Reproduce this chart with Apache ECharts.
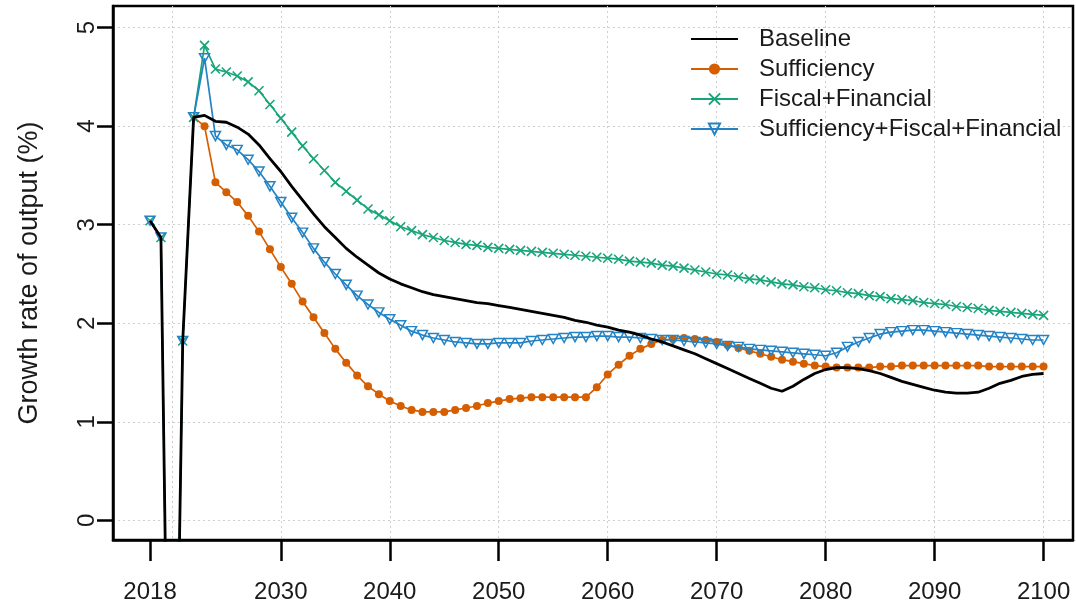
<!DOCTYPE html>
<html><head><meta charset="utf-8">
<script src="https://cdn.jsdelivr.net/npm/echarts@6/dist/echarts.min.js"></script>
<style>html,body{margin:0;padding:0;background:#fff}#c{width:1076px;height:606px}</style>
</head><body><div id="c"></div>
<script>
// ---- data (growth rate of output, %, annual 2018..2100) ----
const startYear = 2018;
const seriesNames = ['Baseline', 'Sufficiency', 'Fiscal+Financial', 'Sufficiency+Fiscal+Financial'];
const baseline = [3.04, 2.87, -5.0, 1.82, 4.09, 4.11, 4.05, 4.04, 3.99, 3.92, 3.81, 3.67, 3.54, 3.39, 3.25, 3.11, 2.98,
  2.87, 2.76, 2.67, 2.59, 2.51, 2.45, 2.40, 2.36, 2.32, 2.29, 2.27, 2.25, 2.23, 2.21, 2.20, 2.18,
  2.16, 2.14, 2.12, 2.10, 2.08, 2.06, 2.03, 2.01, 1.98, 1.96, 1.93, 1.91, 1.88, 1.84, 1.81, 1.77, 1.73,
  1.69, 1.64, 1.59, 1.54, 1.49, 1.44, 1.39, 1.34, 1.31, 1.36, 1.43, 1.49, 1.53, 1.55, 1.55, 1.54, 1.52,
  1.49, 1.45, 1.41, 1.38, 1.35, 1.32, 1.30, 1.29, 1.29, 1.30, 1.34, 1.39, 1.42, 1.46, 1.48, 1.49];
const sufficiency = [null, null, null, null, 4.09, 4.00, 3.43, 3.33, 3.23, 3.09, 2.93, 2.75, 2.57, 2.40, 2.22, 2.06, 1.90,
  1.74, 1.60, 1.47, 1.36, 1.28, 1.21, 1.16, 1.12, 1.10, 1.10, 1.10, 1.12, 1.14, 1.16, 1.19, 1.21,
  1.23, 1.24, 1.25, 1.25, 1.25, 1.25, 1.25, 1.25, 1.35, 1.48, 1.58, 1.67, 1.74, 1.79, 1.83, 1.84, 1.85,
  1.84, 1.83, 1.81, 1.78, 1.75, 1.72, 1.69, 1.66, 1.63, 1.61, 1.59, 1.57, 1.56, 1.55, 1.55, 1.55, 1.55,
  1.56, 1.56, 1.57, 1.57, 1.57, 1.57, 1.57, 1.57, 1.57, 1.57, 1.56, 1.56, 1.56, 1.56, 1.56, 1.56];
const fiscalFinancial = [3.04, 2.87, -5.0, 1.82, 4.09, 4.82, 4.58, 4.55, 4.51, 4.45, 4.36, 4.22, 4.08, 3.94, 3.80, 3.67, 3.55,
  3.43, 3.34, 3.25, 3.16, 3.10, 3.04, 2.98, 2.94, 2.90, 2.87, 2.84, 2.82, 2.80, 2.79, 2.77, 2.76,
  2.75, 2.74, 2.73, 2.72, 2.71, 2.70, 2.69, 2.68, 2.67, 2.66, 2.65, 2.63, 2.62, 2.61, 2.59, 2.58, 2.56,
  2.54, 2.52, 2.50, 2.49, 2.47, 2.45, 2.44, 2.42, 2.40, 2.39, 2.37, 2.36, 2.34, 2.33, 2.31, 2.30, 2.28,
  2.27, 2.25, 2.24, 2.23, 2.21, 2.20, 2.19, 2.17, 2.16, 2.15, 2.13, 2.12, 2.11, 2.10, 2.09, 2.08];
const suffFiscalFinancial = [3.04, 2.87, -5.0, 1.82, 4.09, 4.69, 3.90, 3.81, 3.76, 3.66, 3.54, 3.39, 3.23, 3.07, 2.92, 2.76, 2.62,
  2.50, 2.39, 2.28, 2.19, 2.11, 2.04, 1.98, 1.92, 1.88, 1.85, 1.83, 1.81, 1.80, 1.79, 1.79, 1.80,
  1.80, 1.80, 1.82, 1.83, 1.84, 1.85, 1.86, 1.86, 1.87, 1.87, 1.86, 1.86, 1.85, 1.84, 1.83, 1.83, 1.82,
  1.81, 1.80, 1.79, 1.77, 1.76, 1.74, 1.73, 1.72, 1.71, 1.70, 1.69, 1.68, 1.67, 1.70, 1.76, 1.81, 1.85,
  1.89, 1.91, 1.92, 1.93, 1.93, 1.92, 1.91, 1.90, 1.89, 1.88, 1.87, 1.86, 1.85, 1.84, 1.83, 1.83];
const xTickLabels = [2018, 2030, 2040, 2050, 2060, 2070, 2080, 2090, 2100];
const xGridValues = [2020, 2030, 2040, 2050, 2060, 2070, 2080, 2090, 2100];
const yTicks = [0, 1, 2, 3, 4, 5];

// ---- build ----
const years = baseline.map((_, i) => startYear + i);
const toPairs = arr => arr.map((v, i) => [years[i], v]);
const FONT = "'Liberation Sans', Arial, sans-serif";
const TXT = '#1a1a1a';
const C_BASE = '#000000', C_SUFF = '#D55E00', C_FF = '#18A579', C_SFF = '#2383C4';

const suffData = toPairs(sufficiency).map((p, i) => (i === 4 ? { value: p, symbol: 'none' } : p));

const chart = echarts.init(document.getElementById('c'), null, { renderer: 'canvas' });
chart.setOption({
  animation: false,
  backgroundColor: '#fff',
  textStyle: { fontFamily: FONT },
  grid: { left: 113, right: 3, top: 6, bottom: 66, containLabel: false, outerBoundsMode: 'none',
    show: true, borderColor: '#000', borderWidth: 2.5, backgroundColor: 'transparent' },
  legend: {
    orient: 'vertical', left: 685, top: 22,
    itemWidth: 47, itemHeight: 14, itemGap: 6,
    textStyle: { fontSize: 24, color: TXT, fontFamily: FONT, padding: [0, 0, 0, 16] },
    data: seriesNames
  },
  xAxis: [{
    type: 'value', min: 2014.6, max: 2102.7,
    axisLine: { show: true, onZero: false, lineStyle: { color: '#000', width: 2.5 } },
    axisTick: { show: true, length: 21, customValues: xTickLabels, lineStyle: { color: '#000', width: 2.5 } },
    axisLabel: { customValues: xTickLabels, margin: 40, fontSize: 24, color: TXT, fontFamily: FONT, formatter: v => String(v) },
    splitLine: { show: false }
  }, {
    type: 'value', min: 2014.6, max: 2102.7, position: 'bottom',
    axisLine: { show: false },
    axisTick: { show: false, customValues: xGridValues },
    axisLabel: { show: false, customValues: xGridValues },
    splitLine: { show: true, lineStyle: { type: [2, 3], color: '#cfcfcf', width: 1 } }
  }],
  yAxis: {
    type: 'value', min: -0.2, max: 5.22,
    name: 'Growth rate of output (%)', nameLocation: 'middle', nameGap: 70, nameRotate: 90,
    nameTextStyle: { fontSize: 27, color: TXT, fontFamily: FONT },
    axisLine: { show: true, onZero: false, lineStyle: { color: '#000', width: 2.5 } },
    axisTick: { show: true, length: 16, customValues: yTicks, lineStyle: { color: '#000', width: 2.5 } },
    axisLabel: { customValues: yTicks, rotate: 90, margin: 14, fontSize: 24, color: TXT, fontFamily: FONT },
    splitLine: { show: true, lineStyle: { type: [2, 3], color: '#cfcfcf', width: 1 } }
  },
  series: [{
    name: 'Sufficiency', type: 'line', data: suffData, connectNulls: false,
    symbol: 'circle', symbolSize: 8, showAllSymbol: true,
    itemStyle: { color: C_SUFF },
    lineStyle: { color: C_SUFF, width: 1.7 },
    emphasis: { disabled: true }, z: 2
  }, {
    name: 'Fiscal+Financial', type: 'line', data: toPairs(fiscalFinancial),
    symbol: 'path://M0,0L10,10M0,10L10,0', symbolSize: 9, showAllSymbol: true,
    itemStyle: { color: 'rgba(0,0,0,0)', borderColor: C_FF, borderWidth: 1.6 },
    lineStyle: { color: C_FF, width: 1.7 },
    emphasis: { disabled: true }, z: 3
  }, {
    name: 'Sufficiency+Fiscal+Financial', type: 'line', data: toPairs(suffFiscalFinancial),
    symbol: 'path://M0,0L10,0L5,9Z', symbolSize: [10, 9], showAllSymbol: true,
    itemStyle: { color: 'rgba(0,0,0,0)', borderColor: C_SFF, borderWidth: 1.5 },
    lineStyle: { color: C_SFF, width: 1.7 },
    emphasis: { disabled: true }, z: 4
  }, {
    name: 'Baseline', type: 'line', data: toPairs(baseline),
    symbol: 'circle', showSymbol: false,
    itemStyle: { color: 'rgba(0,0,0,0)' },
    lineStyle: { color: C_BASE, width: 2.8 },
    emphasis: { disabled: true }, z: 5
  }]
});
</script></body></html>
